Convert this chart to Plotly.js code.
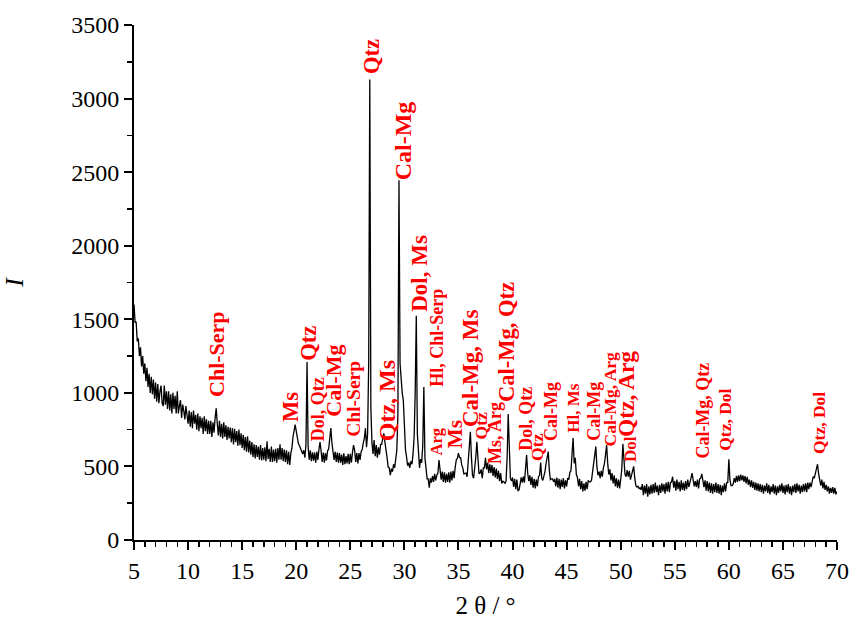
<!DOCTYPE html>
<html>
<head>
<meta charset="utf-8">
<script src="https://cdn.plot.ly/plotly-3.0.1.min.js"></script>
<style>
  html, body { margin: 0; padding: 0; background: #ffffff; }
  #chart { width: 851px; height: 623px; }
</style>
</head>
<body>
<div id="chart"></div>
<script>
// ---- Data ----
// Scan: 2θ from 5° to 70° in 0.1° steps
const twoThetaStart = 5;
const twoThetaStep = 0.1;

// Intensity, one row per degree (x.0 ... x.9)
const intensity = [
  1600,1480,1480,1350,1370,1250,1310,1180,1250,1130, // 5
  1200,1080,1170,1040,1130,1000,1110,990,1090,960,    // 6
  1070,940,1060,930,1010,1050,930,910,1050,920,       // 7
  1010,890,1010,880,990,860,1000,890,980,860,         // 8
  1010,860,910,950,830,920,880,820,910,830,           // 9
  790,880,770,870,760,880,790,850,750,860,            // 10
  740,840,760,830,720,840,740,820,720,810,            // 11
  720,810,700,800,730,830,895,790,710,810,            // 12
  700,790,690,800,700,780,680,770,690,765,            // 13
  665,760,650,755,665,740,640,750,645,725,            // 14
  625,715,610,700,600,705,595,675,580,665,            // 15
  565,650,555,645,565,635,545,645,540,625,            // 16
  545,630,535,670,550,620,530,635,530,615,            // 17
  535,620,525,625,545,650,545,625,535,615,            // 18
  530,610,515,600,510,590,625,700,765,785,            // 19
  740,690,655,640,620,600,585,610,560,650,            // 20
  1210,630,545,610,535,595,540,595,525,600,           // 21
  545,615,665,605,530,595,525,590,540,605,            // 22
  620,690,760,660,610,545,600,530,595,525,            // 23
  590,525,580,510,590,515,570,520,585,515,            // 24
  585,525,595,645,610,530,590,520,590,545,            // 25
  600,615,660,690,760,630,720,1200,3130,900,          // 26
  660,585,680,570,645,560,630,580,650,650,            // 27
  690,725,665,590,560,495,490,440,485,465,            // 28
  515,490,550,610,850,2445,1200,1090,1000,950,        // 29
  780,615,565,505,525,490,535,515,585,700,            // 30
  1000,1524,720,570,490,550,525,645,1040,560,         // 31
  470,415,415,355,420,390,435,395,450,405,            // 32
  440,455,544,470,410,465,395,460,390,450,            // 33
  395,460,390,465,405,470,420,495,545,555,            // 34
  590,560,560,510,490,450,450,455,430,525,            // 35
  600,735,560,440,420,480,560,668,515,450,            // 36
  455,480,420,490,490,558,480,525,455,515,            // 37
  455,510,435,495,425,485,415,470,400,455,            // 38
  385,400,395,385,400,560,857,540,420,400,            // 39
  425,360,415,345,410,335,340,380,425,390,            // 40
  430,390,465,578,455,400,440,375,430,355,            // 41
  415,350,410,365,430,440,526,420,405,435,            // 42
  465,520,560,601,475,410,415,415,395,415,            // 43
  365,425,355,415,345,410,360,420,350,405,            // 44
  365,420,410,460,470,560,693,520,558,445,            // 45
  425,365,415,345,400,330,385,335,395,345,            // 46
  405,395,395,405,460,490,560,635,500,440,            // 47
  465,420,470,430,490,520,580,646,520,445,            // 48
  480,405,455,385,440,365,420,355,410,350,            // 49
  410,480,653,520,445,430,475,430,470,410,            // 50
  445,460,500,420,370,360,365,350,355,340,            // 51
  380,305,370,315,380,295,365,310,375,315,            // 52
  380,320,390,325,370,305,375,320,385,330,            // 53
  380,315,390,330,395,325,390,395,430,355,            // 54
  400,335,410,345,395,330,405,340,390,335,            // 55
  400,345,410,360,405,420,455,395,365,400,            // 56
  360,410,350,415,420,449,390,360,405,335,            // 57
  400,330,390,320,385,315,380,325,390,320,            // 58
  380,315,375,305,370,325,385,330,390,390,            // 59
  549,410,370,370,380,420,390,435,395,440,            // 60
  400,445,405,440,395,435,385,430,375,410,            // 61
  360,405,355,395,340,390,335,385,330,380,            // 62
  325,375,315,370,330,385,320,375,310,365,            // 63
  325,380,315,370,305,365,320,375,330,385,            // 64
  320,370,310,375,325,380,315,365,305,370,            // 65
  325,380,320,385,330,375,315,370,325,380,            // 66
  330,385,325,390,345,390,360,400,430,420,            // 67
  460,490,515,450,420,370,410,350,395,340,            // 68
  375,330,365,315,355,320,360,315,355,310,            // 69
  330                                                 // 70
];

// Phase labels: text, 2θ position, intensity at the foot of the label
const labelText = [
  "Chl-Serp", "Ms", "Qtz", "Dol, Qtz", "Cal-Mg", "Chl-Serp", "Qtz", "Qtz, Ms",
  "Cal-Mg", "Dol, Ms", "Hl, Chl-Serp", "Arg", "Ms", "Cal-Mg, Ms", "Qtz", "Ms, Arg",
  "Cal-Mg, Qtz", "Dol, Qtz", "Qtz", "Cal-Mg", "Hl, Ms", "Cal-Mg", "Cal-Mg, Arg",
  "Qtz, Arg", "Dol", "Cal-Mg, Qtz", "Qtz, Dol", "Qtz, Dol"
];
const labelTwoTheta = [
  12.58, 19.42, 21.12, 22.04, 23.37, 25.22, 26.98, 28.37,
  29.90, 31.38, 32.99, 32.99, 34.68, 36.07, 37.08, 38.38,
  39.40, 41.25, 42.24, 43.62, 45.68, 47.47, 49.01,
  50.49, 50.86, 57.58, 59.65, 68.34
];
const labelIntensity = [
  965, 795, 1210, 666, 829, 693, 3161, 666,
  2436, 1543, 1033, 566, 612, 761, 680, 510,
  931, 600, 532, 668, 725, 666, 632,
  693, 523, 544, 600, 578
];

// Style only (font size of each label, px)
const labelFontSize = [
  22, 22.5, 22.5, 18, 22, 19.5, 22.5, 24,
  24, 23, 18, 16.5, 21.5, 23, 17.5, 18,
  22.5, 18, 17.5, 18, 17, 18, 17.5,
  23.5, 17, 18, 17.5, 17.5
];

// ---- Figure ----
const serif = "Liberation Serif";

const trace = {
  type: "scatter",
  mode: "lines",
  x0: twoThetaStart,
  dx: twoThetaStep,
  y: intensity,
  line: { color: "#000000", width: 1.3 },
  hoverinfo: "x+y",
  showlegend: false
};

const annotations = labelText.map((t, i) => ({
  x: labelTwoTheta[i],
  y: labelIntensity[i],
  xref: "x",
  yref: "y",
  text: "<b>" + t + "</b>",
  showarrow: false,
  textangle: -90,
  xanchor: "center",
  yanchor: "bottom",
  borderpad: 0,
  font: { family: serif, size: labelFontSize[i], color: "#ff0000" }
}));

const layout = {
  width: 851,
  height: 623,
  margin: { l: 134, r: 14, t: 25, b: 83 },
  paper_bgcolor: "#ffffff",
  plot_bgcolor: "#ffffff",
  font: { family: serif, color: "#000000", size: 24 },
  showlegend: false,
  xaxis: {
    range: [5, 70],
    tick0: 5,
    dtick: 5,
    ticks: "outside",
    ticklen: 8,
    tickwidth: 2,
    tickcolor: "#000000",
    minor: { dtick: 1, ticks: "outside", ticklen: 5, tickwidth: 1.5, tickcolor: "#000000" },
    showline: true,
    linecolor: "#000000",
    linewidth: 2,
    showgrid: false,
    zeroline: false,
    tickfont: { family: serif, size: 24, color: "#000000" },
    title: { text: "2 θ / °", font: { family: serif, size: 25, color: "#000000" }, standoff: 14 }
  },
  yaxis: {
    range: [0, 3500],
    tick0: 0,
    dtick: 500,
    ticks: "outside",
    ticklen: 8,
    tickwidth: 2,
    tickcolor: "#000000",
    minor: { dtick: 250, ticks: "outside", ticklen: 5, tickwidth: 1.5, tickcolor: "#000000" },
    showline: true,
    linecolor: "#000000",
    linewidth: 2,
    showgrid: false,
    zeroline: false,
    tickfont: { family: serif, size: 24, color: "#000000" },
    title: { text: "<i>I</i>", font: { family: serif, size: 26, color: "#000000" }, standoff: 40 }
  },
  annotations: annotations
};

Plotly.newPlot("chart", [trace], layout, { displayModeBar: false, staticPlot: true });
</script>
</body>
</html>
